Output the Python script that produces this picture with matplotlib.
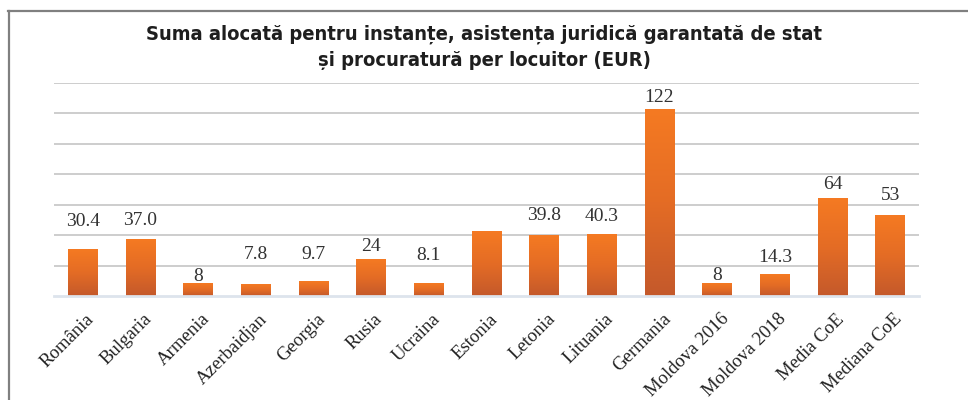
import matplotlib
matplotlib.use("Agg")
import matplotlib.pyplot as plt
import matplotlib.transforms as mtransforms
import numpy as np
from matplotlib.colors import LinearSegmentedColormap

categories = ["România", "Bulgaria", "Armenia", "Azerbaidjan", "Georgia", "Rusia",
              "Ucraina", "Estonia", "Letonia", "Lituania", "Germania",
              "Moldova 2016", "Moldova 2018", "Media CoE", "Mediana CoE"]
values = [30.4, 37.0, 8, 7.8, 9.7, 24, 8.1, 42.4, 39.8, 40.3, 122, 8, 14.3, 64, 53]
labels = ["30.4", "37.0", "8", "7.8", "9.7", "24", "8.1", "", "39.8", "40.3",
          "122", "8", "14.3", "64", "53"]
# gap (in points) between bar top and label centre, as placed in the original
label_gap_pt = [20, 14, 5, 21, 19, 9, 20, 0, 14, 13, 9, 6, 12, 10, 14]

title = "Suma alocată pentru instanțe, asistența juridică garantată de stat\nși procuratură per locuitor (EUR)"

serif = "Liberation Serif"

fig = plt.figure(figsize=(9.68, 4.0), dpi=100)
ax = fig.add_axes([54/968, 1-296/400, (919-54)/968, (296-82.5)/400])

cmap = LinearSegmentedColormap.from_list("g", ["#c4592b", "#e46c25", "#f57a22"])
grad = np.linspace(0, 1, 256).reshape(-1, 1)
width = 0.52
x = np.arange(len(categories))
for xi, v in zip(x, values):
    ax.imshow(grad, extent=[xi - width/2, xi + width/2, 0, v], origin="lower",
              cmap=cmap, aspect="auto", zorder=3, interpolation="bilinear")

ax.set_xlim(-0.5, len(categories) - 0.5)
ax.set_ylim(0, 140)
ax.set_yticks(np.arange(20, 141, 20))
ax.yaxis.grid(True, color="#c9c9c9", linewidth=1.3, zorder=0)
ax.set_axisbelow(True)
for s in ["top", "right", "left"]:
    ax.spines[s].set_visible(False)
ax.spines["bottom"].set_color("#dde4ec")
ax.spines["bottom"].set_linewidth(2.0)
ax.spines["bottom"].set_zorder(4)
ax.tick_params(axis="y", left=False, labelleft=False)
ax.tick_params(axis="x", bottom=False, pad=7)
ax.set_xticks(x)
ax.set_xticklabels(categories, rotation=45, ha="right", va="top",
                   rotation_mode="anchor", fontfamily=serif, fontsize=13.5,
                   color="#222222")
shift = mtransforms.ScaledTranslation(2/72, 0, fig.dpi_scale_trans)
for t in ax.get_xticklabels():
    t.set_transform(t.get_transform() + shift)

for xi, v, lab, g in zip(x, values, labels, label_gap_pt):
    if lab:
        ax.annotate(lab, (xi, v), xytext=(0, g), textcoords="offset points",
                    ha="center", va="center", fontfamily=serif, fontsize=14,
                    color="#333333", zorder=5)

fig.text(0.5, 1 - 47/400, title, ha="center", va="center", fontfamily="DejaVu Sans",
         fontstretch="condensed", fontweight="bold", fontsize=14.5,
         color="#1e1e1e", linespacing=1.45)

# outer frame lines (top and left)
fig.add_artist(plt.Line2D([8/968, 1], [1 - 10.5/400, 1 - 10.5/400],
                          transform=fig.transFigure, color="#808080", linewidth=1.6))
fig.add_artist(plt.Line2D([8.5/968, 8.5/968], [0, 1 - 10.5/400],
                          transform=fig.transFigure, color="#808080", linewidth=1.6))

fig.savefig("out.png", dpi=100, facecolor="white")
